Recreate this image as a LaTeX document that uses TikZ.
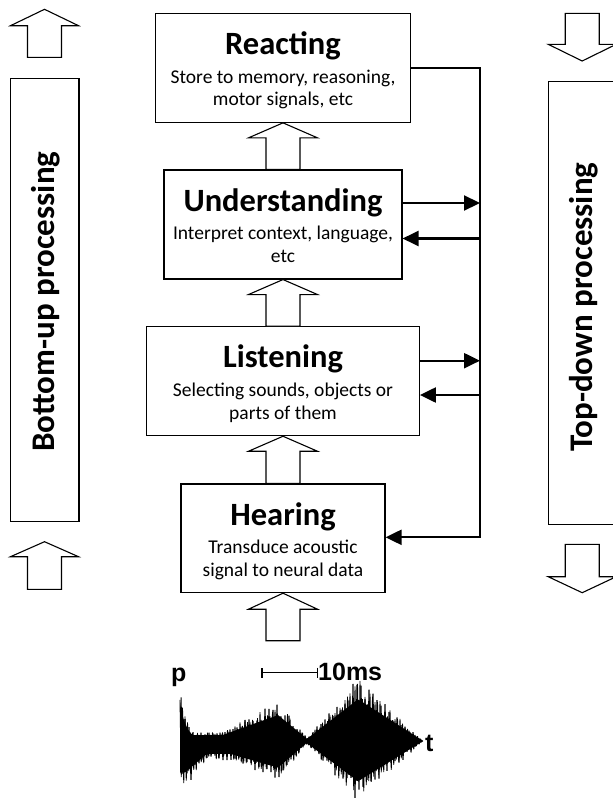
\documentclass[tikz,border=0pt]{standalone}
\usepackage{fontspec}
\setmainfont{Carlito}
\newfontfamily\helv{Liberation Sans}
\usetikzlibrary{arrows.meta,calc}
\tikzset{
  box/.style={draw, line width=1.1pt, inner sep=0pt},
  ttl/.style={anchor=base, inner sep=0pt, font=\fontsize{32.5}{36}\selectfont\bfseries},
  sub/.style={anchor=base, inner sep=0pt, font=\fontsize{19.5}{22}\selectfont},
  blk/.style={draw, line width=1.1pt, fill=white, line join=miter},
  conn/.style={line width=2.2pt},
  arr/.style={-{Triangle[length=16pt,width=15pt]}},
  sidebox/.style={draw, line width=1.1pt, inner sep=0pt},
  sidetxt/.style={rotate=90, inner sep=0pt, font=\fontsize{33}{36}\selectfont\bfseries},
  wavetxt/.style={anchor=base west, inner sep=0pt, font=\helv\bfseries\fontsize{25}{28}\selectfont},
}
\newcommand{\boxarrow}[2]{\draw[blk] (#1.south) -- ++(34.5,15) -- ++(-17.5,0) -- ($(#2.north)+(17,0)$) -- ($(#2.north)+(-17,0)$) -- ($(#1.south)+(-17,15)$) -- ++(-17.5,0) -- cycle;}
\newcommand{\sidearrow}[4]{\draw[blk] (#1,#2) -- ({#1+34},#3) -- ({#1+17},#3) -- ({#1+17},#4) -- ({#1-17},#4) -- ({#1-17},#3) -- ({#1-34},#3) -- cycle;}
\begin{document}
\begin{tikzpicture}[x=1pt,y=-1pt,
  declare function={
    wu(\x)=max(51*exp(max(-9,-(\x-180)/7)), ifthenelse(\x<292,8,0), ifthenelse(\x<278,36-0.5*(278-\x),36-1.14*(\x-278)), ifthenelse(\x<358,58-1.08*(358-\x),58-0.89*(\x-358)), 0.5);
    wl(\x)=max(ifthenelse(\x<185,44,44-1.2*(\x-185)), ifthenelse(\x<292,18,0), ifthenelse(\x<278,37-0.4*(278-\x),37-1.2*(\x-278)), ifthenelse(\x<358,56-1.04*(358-\x),56-0.86*(\x-358)), 0.5);
  }]
\useasboundingbox (0,0) rectangle (613,798);

% main boxes
\node[box, minimum width=255, minimum height=109] (react) at (283,67.8) {};
\node[box, minimum width=238, minimum height=109] (und) at (283,224.5) {};
\node[box, minimum width=272.7, minimum height=109] (lis) at (283,381.2) {};
\node[box, minimum width=204, minimum height=108.7] (hear) at (283,538.3) {};

% texts
\node[ttl] (react-t) at ($(react.north)+(0,41.7)$) {Reacting};
\node[sub] (react-s1) at ($(react.north)+(0,70.5)$) {Store to memory, reasoning,};
\node[sub] (react-s2) at ($(react.north)+(0,93)$) {motor signals, etc};
\node[ttl] (und-t) at ($(und.north)+(0,41.7)$) {Understanding};
\node[sub] (und-s1) at ($(und.north)+(0,70.5)$) {Interpret context, language,};
\node[sub] (und-s2) at ($(und.north)+(0,93)$) {etc};
\node[ttl] (lis-t) at ($(lis.north)+(0,41.7)$) {Listening};
\node[sub] (lis-s1) at ($(lis.north)+(0,70.5)$) {Selecting sounds, objects or};
\node[sub] (lis-s2) at ($(lis.north)+(0,93)$) {parts of them};
\node[ttl] (hear-t) at ($(hear.north)+(0,41.7)$) {Hearing};
\node[sub] (hear-s1) at ($(hear.north)+(0,70.5)$) {Transduce acoustic};
\node[sub] (hear-s2) at ($(hear.north)+(0,93)$) {signal to neural data};

% block arrows between boxes
\boxarrow{react}{und}
\boxarrow{und}{lis}
\boxarrow{lis}{hear}
\coordinate (inbot) at (283,640.7);
\draw[blk] (hear.south) -- ++(34.5,16) -- ++(-17.5,0) -- ($(inbot)+(17,0)$) -- ($(inbot)+(-17,0)$) -- ($(hear.south)+(-17,16)$) -- ++(-17.5,0) -- cycle;

% feedback bus
\coordinate (busT) at (480,67.8);
\coordinate (busB) at (480,537.3);
\coordinate (uo) at (480,203);
\coordinate (ui) at (480,238.5);
\coordinate (lo) at (480,360.7);
\coordinate (li) at (480,395);
\draw[conn, arr] (react.east) -- (busT) -- (busB) -- (hear.east |- busB);
\draw[conn, arr] (und.east |- uo) -- (uo);
\draw[conn, arr] (ui) -- (und.east |- ui);
\draw[conn, arr] (lis.east |- lo) -- (lo);
\draw[conn, arr] (li) -- (lis.east |- li);

% side panels
\node[sidebox, minimum width=68.4, minimum height=443.4] (bu) at (44.8,300) {};
\node[sidetxt, anchor=west] (bu-t) at (46,452) {Bottom-up processing};
\draw[line width=1.1pt] (548.3,81.7) rectangle (660,524.3);
\node[sidetxt, anchor=west] (td-t) at (584,452) {Top-down processing};
\sidearrow{44.5}{9.3}{25.7}{57.3}
\sidearrow{44.5}{541.7}{556.7}{589.3}
\sidearrow{582.2}{61}{44.3}{13.3}
\sidearrow{582.2}{592.7}{576.7}{544.3}

% waveform
\pgfmathsetseed{11}
\fill plot[domain=180:423, samples=120] (\x,{741-0.72*wu(\x)}) -- plot[domain=423:180, samples=120] (\x,{741+0.72*wl(\x)}) -- cycle;
\draw[line width=0.9pt, line join=bevel] plot[domain=0:194, samples=195, variable=\k]
  ({180+1.25*\k},{741+ifthenelse(mod(round(\k),2)<0.5, -wu(180+1.25*\k)*(0.65+0.45*rnd), wl(180+1.25*\k)*(0.65+0.45*rnd))});
\draw[line width=1pt, line join=bevel] plot[domain=0:120, samples=121, variable=\k]
  ({181+2*\k},{741+ifthenelse(mod(round(\k),2)<0.5, -wu(181+2*\k)*(0.75+0.35*rnd), wl(181+2*\k)*(0.75+0.35*rnd))});
\node[wavetxt] (plab) at (171,681.7) {p};
\node[wavetxt] (tlab) at (425,751.7) {t};
\node[wavetxt] (mslab) at (318,680) {10ms};
\coordinate (barL) at (261,672.7);
\draw[line width=1.5pt, {Bar[width=10pt]}-{Bar[width=10pt]}] (barL) -- (mslab.west |- barL);
\end{tikzpicture}
\end{document}
